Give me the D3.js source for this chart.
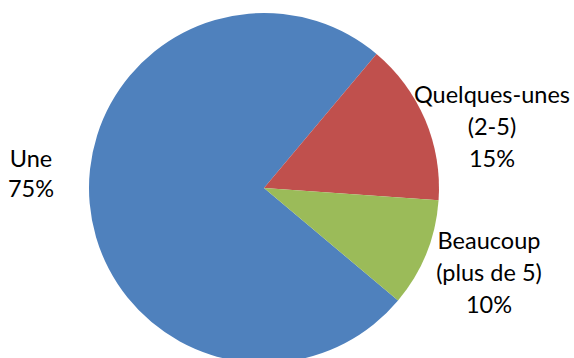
<!DOCTYPE html>
<html>
<head>
<meta charset="utf-8">
<script src="https://cdn.jsdelivr.net/npm/d3@7/dist/d3.min.js"></script>
<style>
  html, body { margin: 0; padding: 0; background: #ffffff; }
  svg { display: block; }
  text { font-family: Lato, "Noto Sans", sans-serif; fill: #000; }
</style>
</head>
<body>
<svg id="chart" width="574" height="358"></svg>
<script>
// Number of items reported, share of answers
const categories = ["Une", "Quelques-unes", "Beaucoup"];
const labelLines = [["Une"], ["Quelques-unes", "(2-5)"], ["Beaucoup", "(plus de 5)"]];
const values = [75, 15, 10];
const colors = ["#4F81BD", "#C0504D", "#9BBB59"];

const width = 574, height = 358;
const cx = 264, cy = 188, radius = 175;

const svg = d3.select("#chart");
const g = svg.append("g").attr("transform", `translate(${cx},${cy})`);

// Second slice begins a little past 1 o'clock; the first slice wraps round the left side
const redStart = 40 * Math.PI / 180;
const firstStart = redStart - (values[0] / d3.sum(values)) * 2 * Math.PI;

const pie = d3.pie()
  .value(d => d)
  .sort(null)
  .startAngle(firstStart)
  .endAngle(firstStart + 2 * Math.PI);

const arc = d3.arc().innerRadius(0).outerRadius(radius);
const arcs = pie(values);

g.selectAll("path.slice")
  .data(arcs)
  .join("path")
  .attr("class", "slice")
  .attr("d", arc)
  .attr("fill", (d, i) => colors[i]);

// Outside labels: category lines then percentage
const labelPos = [
  { x: 31, y: 167, anchor: "middle" },
  { x: 492, y: 103, anchor: "middle" },
  { x: 489, y: 249, anchor: "middle" }
];
const lineGap = 32;
const total = d3.sum(values);

arcs.forEach((a, i) => {
  const lines = labelLines[i].concat([Math.round(values[i] / total * 100) + "%"]);
  const t = svg.append("text")
    .attr("text-anchor", labelPos[i].anchor)
    .attr("font-size", 23.5);
  lines.forEach((s, k) => {
    t.append("tspan")
      .attr("x", labelPos[i].x)
      .attr("y", labelPos[i].y + k * (i === 0 ? 30 : lineGap))
      .text(s);
  });
});
</script>
</body>
</html>
